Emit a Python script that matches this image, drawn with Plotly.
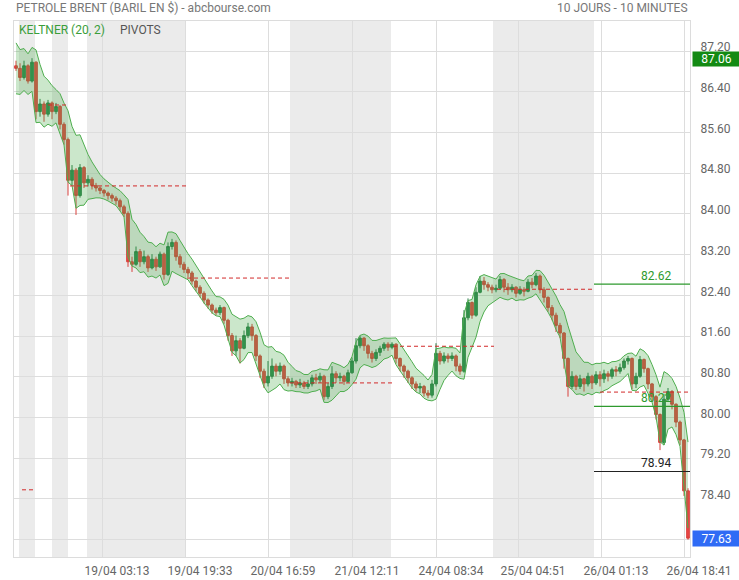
import plotly.graph_objects as go

# ---------------- data ----------------
first_open = 86.91
closes = [86.86, 86.68, 86.91, 86.61, 86.98, 86.01, 86.16, 85.96, 86.18, 86.01,
          86.11, 85.76, 85.46, 84.66, 84.86, 84.36, 84.91, 84.61, 84.68, 84.56,
          84.51, 84.46, 84.41, 84.36, 84.31, 84.26, 84.14, 84.01, 83.06, 83.01,
          83.26, 83.06, 83.16, 82.94, 83.11, 82.96, 83.21, 82.81, 83.36, 83.44,
          83.16, 83.01, 82.91, 82.84, 82.68, 82.56, 82.44, 82.31, 82.21, 82.11,
          82.06, 82.16, 81.91, 81.61, 81.31, 81.51, 81.36, 81.61, 81.78, 81.61,
          81.21, 80.91, 80.68, 80.81, 81.01, 80.91, 81.01, 80.76, 80.68, 80.71,
          80.64, 80.68, 80.61, 80.66, 80.78, 80.74, 80.81, 80.41, 80.61, 80.86,
          80.78, 80.81, 80.71, 80.88, 81.11, 81.41, 81.56, 81.41, 81.26, 81.16,
          81.28, 81.36, 81.44, 81.38, 81.44, 81.16, 81.01, 80.91, 80.78, 80.66,
          80.58, 80.61, 80.48, 80.44, 80.66, 81.26, 81.11, 81.21, 81.16, 81.21,
          81.01, 80.91, 81.96, 82.26, 82.01, 82.46, 82.68, 82.61, 82.56, 82.51,
          82.54, 82.71, 82.56, 82.51, 82.56, 82.44, 82.51, 82.48, 82.66, 82.61,
          82.78, 82.51, 82.36, 82.16, 82.01, 81.81, 81.66, 81.16, 80.61, 80.81,
          80.61, 80.76, 80.66, 80.81, 80.68, 80.84, 80.76, 80.86, 80.81, 80.94,
          80.91, 80.98, 81.11, 81.16, 80.66, 80.81, 81.14, 80.96, 80.66, 80.41,
          80.06, 79.51, 80.36, 80.51, 80.26, 79.91, 79.56, 78.56, 77.63]
highs = [87.01, 86.96, 87.01, 86.94, 87.06, 87.00, 86.26, 86.21, 86.24, 86.21,
         86.18, 86.14, 85.80, 85.50, 84.96, 84.90, 84.98, 84.94, 84.76, 84.72,
         84.61, 84.54, 84.49, 84.44, 84.40, 84.35, 84.30, 84.18, 84.05, 83.16,
         83.36, 83.31, 83.28, 83.20, 83.21, 83.16, 83.26, 83.24, 83.44, 83.51,
         83.48, 83.21, 83.06, 82.96, 82.88, 82.71, 82.60, 82.48, 82.34, 82.24,
         82.16, 82.21, 82.18, 81.94, 81.66, 81.61, 81.56, 81.71, 81.86, 81.84,
         81.64, 81.24, 80.96, 81.11, 81.16, 81.06, 81.08, 81.04, 80.81, 80.78,
         80.74, 80.76, 80.72, 80.74, 80.84, 80.86, 80.88, 80.84, 80.68, 81.01,
         80.91, 80.88, 80.84, 80.94, 81.18, 81.56, 81.61, 81.58, 81.44, 81.31,
         81.34, 81.41, 81.48, 81.48, 81.48, 81.46, 81.18, 81.04, 80.94, 80.81,
         80.71, 80.68, 80.64, 80.54, 80.74, 81.46, 81.31, 81.28, 81.26, 81.28,
         81.24, 81.06, 82.11, 82.34, 82.28, 82.56, 82.78, 82.76, 82.66, 82.61,
         82.61, 82.78, 82.74, 82.64, 82.62, 82.58, 82.58, 82.56, 82.72, 82.74,
         82.84, 82.81, 82.56, 82.38, 82.21, 82.06, 81.86, 81.68, 81.18, 80.91,
         80.84, 80.84, 80.78, 80.88, 80.84, 80.91, 80.91, 80.94, 80.91, 80.98,
         81.01, 81.06, 81.16, 81.21, 81.18, 80.88, 81.21, 81.16, 80.98, 80.68,
         80.44, 80.08, 80.46, 80.58, 80.54, 80.28, 79.94, 79.58, 78.61]
lows = [86.81, 86.61, 86.64, 86.56, 86.58, 85.86, 85.91, 85.81, 85.91, 85.86,
        85.96, 85.66, 85.36, 84.36, 84.56, 83.98, 84.32, 84.51, 84.54, 84.48,
        84.44, 84.39, 84.34, 84.28, 84.24, 84.18, 84.06, 83.94, 82.96, 82.86,
        82.98, 82.96, 83.01, 82.86, 82.91, 82.88, 82.94, 82.71, 82.78, 83.30,
        83.08, 82.94, 82.84, 82.76, 82.61, 82.48, 82.36, 82.24, 82.14, 82.04,
        82.01, 82.01, 81.84, 81.51, 81.21, 81.21, 81.06, 81.34, 81.56, 81.51,
        81.11, 80.78, 80.58, 80.61, 80.76, 80.81, 80.84, 80.66, 80.61, 80.61,
        80.58, 80.58, 80.56, 80.56, 80.61, 80.66, 80.68, 80.34, 80.36, 80.56,
        80.68, 80.71, 80.64, 80.68, 80.86, 81.06, 81.36, 81.31, 81.16, 81.08,
        81.11, 81.21, 81.31, 81.31, 81.34, 81.06, 80.91, 80.78, 80.68, 80.56,
        80.51, 80.48, 80.41, 80.38, 80.39, 80.61, 81.04, 81.06, 81.08, 81.11,
        80.91, 80.84, 80.88, 81.91, 81.94, 81.98, 82.44, 82.51, 82.48, 82.44,
        82.46, 82.51, 82.46, 82.41, 82.46, 82.36, 82.41, 82.38, 82.46, 82.54,
        82.58, 82.44, 82.26, 82.08, 81.91, 81.68, 81.56, 80.96, 80.41, 80.56,
        80.54, 80.56, 80.51, 80.61, 80.56, 80.64, 80.61, 80.68, 80.71, 80.76,
        80.81, 80.86, 80.94, 81.04, 80.56, 80.58, 80.78, 80.88, 80.56, 80.31,
        79.96, 79.36, 79.46, 80.31, 80.16, 79.81, 79.46, 78.46, 77.60]
opens = [first_open] + closes[:-1]
bars = list(range(len(closes)))

tick_labels = ["19/04 03:13", "19/04 19:33", "20/04 16:59", "21/04 12:11",
               "24/04 08:34", "25/04 04:51", "26/04 01:13", "26/04 18:41"]
tick_bars = [21.5, 42.25, 63.0, 84.0, 105.0, 125.5, 146.25, 167.0]

session_shading = [(0.75, 4.75), (9.0, 13.0), (17.75, 42.25), (68.5, 93.75), (119.25, 144.5)]

pivot_levels = [86.14, 84.55, 82.74, 80.68, 81.40, 82.52, 80.50, 78.58]
pivot_spans = [(8.0, 13.0), (13.5, 42.75), (42.75, 68.5), (68.5, 94.0),
               (94.25, 119.5), (120.25, 144.5), (146.0, 168.5), (1.5, 4.75)]

level_values = [82.62, 80.22, 78.94]
level_colors = ["#2e9a2e", "#2e9a2e", "#222222"]

y_ticks = [77.6, 78.4, 79.2, 80.0, 80.8, 81.6, 82.4, 83.2, 84.0, 84.8, 85.6, 86.4, 87.2]
y_tick_text = ["", "78.40", "79.20", "80.00", "80.80", "81.60", "82.40", "83.20",
               "84.00", "84.80", "85.60", "86.40", "87.20"]

last_open_label = 87.06
last_price = 77.63

# ---------------- Keltner channel computed from the candles ----------------
period = 4      # 20 ten-minute bars ~ 4 plotted candles
mult = 1.0
alpha = 2.0 / (period + 1)
mid, atr = [], []
for i in range(len(closes)):
    pc = opens[i]
    tr = max(highs[i] - lows[i], abs(highs[i] - pc), abs(lows[i] - pc))
    if i == 0:
        mid.append(closes[0])
        atr.append(tr * 2.5)
    else:
        mid.append(mid[-1] + alpha * (closes[i] - mid[-1]))
        atr.append(atr[-1] + alpha * (tr - atr[-1]))
upper = [m + mult * a for m, a in zip(mid, atr)]
lower = [m - mult * a for m, a in zip(mid, atr)]

FONT = "Roboto, 'Open Sans', sans-serif"

fig = go.Figure()
fig.add_trace(go.Candlestick(
    x=bars, open=opens, high=highs, low=lows, close=closes,
    increasing=dict(line=dict(color="#2b7d48", width=1), fillcolor="#2e8b50"),
    decreasing=dict(line=dict(color="#d8403c", width=1), fillcolor="#ea4545"),
    whiskerwidth=0, showlegend=False, hoverinfo="skip"))
fig.add_trace(go.Scatter(x=bars, y=lower, mode="lines",
                         line=dict(color="#4fae4f", width=1), showlegend=False, hoverinfo="skip"))
fig.add_trace(go.Scatter(x=bars, y=upper, mode="lines", fill="tonexty",
                         fillcolor="rgba(70,170,70,0.28)",
                         line=dict(color="#4fae4f", width=1), showlegend=False, hoverinfo="skip"))

shapes = []
for x0, x1 in session_shading:
    shapes.append(dict(type="rect", xref="x", yref="paper", x0=x0, x1=x1, y0=0, y1=1,
                       fillcolor="#ebebeb", line=dict(width=0), layer="below"))
for lvl, (x0, x1) in zip(pivot_levels, pivot_spans):
    shapes.append(dict(type="line", xref="x", yref="y", x0=x0, x1=x1, y0=lvl, y1=lvl,
                       line=dict(color="#d22a2a", width=1, dash="4px,3px")))
for lvl, col in zip(level_values, level_colors):
    shapes.append(dict(type="line", xref="x", yref="y", x0=144.5, x1=168.5, y0=lvl, y1=lvl,
                       line=dict(color=col, width=1.2)))

annotations = [
    dict(xref="paper", yref="paper", x=0, y=1, xanchor="left", yanchor="bottom", yshift=4,
         text="PETROLE BRENT (BARIL EN $) - abcbourse.com", showarrow=False,
         font=dict(family=FONT, size=12, color="#777777")),
    dict(xref="paper", yref="paper", x=1, y=1, xanchor="right", yanchor="bottom", yshift=4,
         text="10 JOURS - 10 MINUTES", showarrow=False,
         font=dict(family=FONT, size=12, color="#777777")),
    dict(xref="paper", yref="paper", x=0, y=1, xanchor="left", yanchor="top", xshift=3, yshift=0,
         text="KELTNER (20, 2)", showarrow=False,
         font=dict(family=FONT, size=12, color="#3a9e3a")),
    dict(xref="paper", yref="paper", x=0, y=1, xanchor="left", yanchor="top", xshift=104, yshift=0,
         text="PIVOTS", showarrow=False,
         font=dict(family=FONT, size=12, color="#555555")),
    dict(xref="paper", yref="y", x=1, y=last_open_label, xanchor="left", yanchor="middle", xshift=2,
         yshift=-1, text=f"{last_open_label:.2f}", showarrow=False, bgcolor="#138a13", width=45,
         height=12, borderpad=1, align="center", font=dict(family=FONT, size=12, color="white")),
    dict(xref="paper", yref="y", x=1, y=last_price, xanchor="left", yanchor="middle", xshift=2,
         text=f"{last_price:.2f}", showarrow=False, bgcolor="#2f6bf5", width=45, height=13,
         borderpad=1, align="center", font=dict(family=FONT, size=12, color="white")),
]
for lvl, col in zip(level_values, level_colors):
    annotations.append(dict(xref="x", yref="y", x=164.25, y=lvl, xanchor="right", yanchor="bottom",
                            text=f"{lvl:.2f}", showarrow=False, yshift=-1,
                            font=dict(family=FONT, size=12, color=col)))

fig.update_layout(
    width=739, height=580,
    margin=dict(l=14, r=49, t=21, b=23),
    paper_bgcolor="white", plot_bgcolor="white",
    font=dict(family=FONT, size=12, color="#666666"),
    shapes=shapes, annotations=annotations,
    boxgap=0.05,
    xaxis=dict(range=[-0.5, 168.5], rangeslider=dict(visible=False),
               tickvals=tick_bars, ticktext=tick_labels, ticklabelshift=15,
               ticklabelstandoff=3, automargin=False,
               showgrid=True, gridcolor="#dddddd", gridwidth=1, zeroline=False,
               showline=True, mirror=True, linecolor="#dcdcdc", linewidth=1,
               tickfont=dict(family=FONT, size=12, color="#666666")),
    yaxis=dict(range=[77.26, 87.79], side="right",
               tickvals=y_ticks, ticktext=y_tick_text,
               ticklabelshift=-4, ticklabelstandoff=7, automargin=False,
               showgrid=True, gridcolor="#dddddd", gridwidth=1, zeroline=False,
               showline=True, mirror=True, linecolor="#dcdcdc", linewidth=1,
               tickfont=dict(family=FONT, size=12, color="#666666")),
    hovermode=False,
)

# remove the default 8px body margin of the page so the figure sits at the top-left corner
fig.write_html("out.html", config={"displayModeBar": False},
               post_script="document.body.style.margin='0px';document.body.style.overflow='hidden';")
